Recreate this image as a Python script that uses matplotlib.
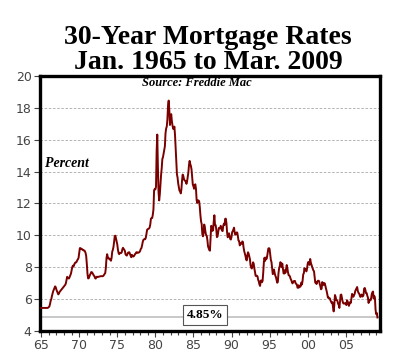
import matplotlib
matplotlib.use("Agg")
import matplotlib.pyplot as plt
import numpy as np

# Monatswerte 30-Year Mortgage Rates, Jan. 1965 bis Mar. 2009 (Freddie Mac)
START_YEAR = 1965
rates = [
    5.45, 5.45, 5.45, 5.45, 5.45, 5.45, 5.45, 5.45, 5.45, 5.45, 5.45, 5.47,   # 1965
    5.5, 5.55, 5.7, 5.9, 6.0, 6.2, 6.35, 6.5, 6.6, 6.7, 6.8, 6.75,             # 1966
    6.6, 6.5, 6.4, 6.3, 6.35, 6.45, 6.5, 6.55, 6.6, 6.65, 6.7, 6.75,           # 1967
    6.8, 6.85, 6.9, 7.0, 7.2, 7.4, 7.35, 7.3, 7.3, 7.4, 7.5, 7.6,              # 1968
    7.8, 8.0, 8.1, 8.05, 8.15, 8.25, 8.3, 8.3, 8.35, 8.45, 8.5, 8.6,           # 1969
    8.9, 9.2, 9.2, 9.15, 9.15, 9.1, 9.1, 9.05, 9.05, 9.0, 8.9, 8.7,            # 1970
    8.2, 7.6, 7.3, 7.31, 7.43, 7.53, 7.6, 7.7, 7.69, 7.63, 7.55, 7.48,         # 1971
    7.44, 7.32, 7.29, 7.37, 7.41, 7.38, 7.4, 7.41, 7.42, 7.43, 7.44, 7.44,     # 1972
    7.44, 7.44, 7.46, 7.52, 7.58, 7.64, 7.97, 8.58, 8.82, 8.65, 8.54, 8.55,    # 1973
    8.54, 8.46, 8.41, 8.58, 8.97, 9.09, 9.28, 9.59, 9.96, 9.98, 9.79, 9.62,    # 1974
    9.43, 9.10, 8.89, 8.82, 8.91, 8.89, 8.89, 8.94, 9.13, 9.22, 9.15, 9.10,    # 1975
    9.02, 8.81, 8.76, 8.73, 8.83, 8.92, 8.93, 8.94, 8.82, 8.72, 8.63, 8.78,    # 1976
    8.72, 8.67, 8.69, 8.75, 8.83, 8.86, 8.94, 8.94, 8.90, 8.92, 8.92, 8.96,    # 1977
    9.02, 9.15, 9.20, 9.36, 9.57, 9.71, 9.74, 9.78, 9.76, 9.86, 10.11, 10.35,  # 1978
    10.39, 10.41, 10.43, 10.50, 10.69, 11.04, 11.09, 11.09, 11.30, 11.64, 12.83, 12.90,  # 1979
    12.88, 13.04, 15.28, 16.32, 14.26, 12.71, 12.19, 12.56, 13.20, 13.79, 14.21, 14.79,  # 1980
    14.90, 15.13, 15.40, 15.58, 16.40, 16.70, 16.83, 17.29, 18.16, 18.45, 17.83, 16.92,  # 1981
    17.40, 17.60, 17.16, 16.89, 16.68, 16.70, 16.82, 16.27, 15.43, 14.61, 13.83, 13.62,  # 1982
    13.25, 13.04, 12.80, 12.78, 12.63, 12.87, 13.42, 13.81, 13.73, 13.54, 13.44, 13.42,  # 1983
    13.37, 13.23, 13.39, 13.65, 13.94, 14.42, 14.67, 14.47, 14.35, 14.13, 13.64, 13.18,  # 1984
    13.08, 12.92, 13.17, 13.20, 12.91, 12.22, 12.03, 12.19, 12.19, 12.14, 11.78, 11.26,  # 1985
    10.88, 10.71, 10.08, 9.94, 10.14, 10.68, 10.51, 10.20, 10.01, 9.97, 9.70, 9.31,      # 1986
    9.20, 9.08, 9.04, 9.83, 10.60, 10.54, 10.28, 10.33, 10.89, 11.26, 10.65, 10.64,      # 1987
    10.38, 9.89, 9.93, 10.20, 10.46, 10.46, 10.43, 10.60, 10.48, 10.30, 10.27, 10.61,    # 1988
    10.73, 10.65, 11.03, 11.05, 10.77, 10.20, 9.88, 9.99, 10.13, 9.95, 9.77, 9.74,       # 1989
    9.90, 10.20, 10.27, 10.37, 10.48, 10.16, 10.04, 10.10, 10.18, 10.18, 9.95, 9.67,     # 1990
    9.64, 9.37, 9.50, 9.49, 9.47, 9.62, 9.58, 9.24, 9.01, 8.86, 8.71, 8.50,              # 1991
    8.43, 8.76, 8.94, 8.85, 8.67, 8.51, 8.13, 7.98, 7.92, 8.09, 8.31, 8.22,              # 1992
    7.92, 7.71, 7.46, 7.46, 7.47, 7.42, 7.21, 7.11, 6.92, 6.83, 7.16, 7.17,              # 1993
    7.06, 7.15, 7.68, 8.32, 8.60, 8.40, 8.61, 8.51, 8.64, 8.93, 9.17, 9.20,              # 1994
    9.15, 8.83, 8.46, 8.32, 7.96, 7.57, 7.61, 7.86, 7.64, 7.48, 7.38, 7.20,              # 1995
    7.03, 7.08, 7.62, 7.93, 8.07, 8.32, 8.25, 8.00, 8.23, 7.92, 7.62, 7.60,              # 1996
    7.82, 7.65, 7.90, 8.14, 7.94, 7.69, 7.50, 7.48, 7.43, 7.29, 7.21, 7.10,              # 1997
    6.99, 7.04, 7.13, 7.14, 7.14, 7.00, 6.95, 6.92, 6.72, 6.71, 6.87, 6.74,              # 1998
    6.79, 6.81, 7.04, 6.92, 7.15, 7.55, 7.63, 7.94, 7.82, 7.85, 7.74, 7.91,              # 1999
    8.21, 8.33, 8.24, 8.15, 8.52, 8.29, 8.15, 8.03, 7.91, 7.80, 7.75, 7.38,              # 2000
    7.03, 7.05, 6.95, 7.08, 7.15, 7.16, 7.13, 6.95, 6.82, 6.62, 6.66, 7.07,              # 2001
    7.00, 6.89, 7.01, 6.99, 6.81, 6.65, 6.49, 6.29, 6.09, 6.11, 6.07, 6.05,              # 2002
    5.92, 5.84, 5.75, 5.81, 5.48, 5.23, 5.63, 6.26, 6.15, 5.95, 5.93, 5.88,              # 2003
    5.71, 5.64, 5.45, 5.83, 6.27, 6.29, 6.06, 5.87, 5.75, 5.72, 5.73, 5.75,              # 2004
    5.71, 5.63, 5.93, 5.86, 5.72, 5.58, 5.70, 5.82, 5.77, 6.07, 6.33, 6.27,              # 2005
    6.15, 6.25, 6.32, 6.51, 6.60, 6.68, 6.76, 6.52, 6.40, 6.36, 6.24, 6.14,              # 2006
    6.22, 6.29, 6.16, 6.18, 6.26, 6.66, 6.70, 6.57, 6.38, 6.38, 6.21, 6.10,              # 2007
    5.76, 5.92, 5.97, 5.92, 6.04, 6.32, 6.43, 6.48, 6.04, 6.20, 6.09, 5.33,              # 2008
    5.06, 5.13, 4.85,                                                                     # 2009
]
LATEST = 4.85

major_years = [1965, 1970, 1975, 1980, 1985, 1990, 1995, 2000, 2005]
major_labels = ["65", "70", "75", "80", "85", "90", "95", "00", "05"]
y_ticks = [4, 6, 8, 10, 12, 14, 16, 18, 20]

t = START_YEAR + np.arange(len(rates)) / 12.0

fig = plt.figure(figsize=(4.0, 3.63), dpi=100)
ax = fig.add_axes([0.1, 0.088, 0.85, 0.703])

# Gitter
for yv in y_ticks[1:-1]:
    ax.axhline(yv, color="#a8a8a8", linestyle=(0, (3, 2)), linewidth=0.6, zorder=1)

# aktueller Wert
ax.axhline(LATEST, color="#c4c4c4", linewidth=1.3, zorder=1)

ax.plot(t, rates, color="#7a0000", linewidth=1.4, zorder=3)

ax.set_xlim(1964.85, 2009.5)
ax.set_ylim(4, 20)
ax.set_yticks(y_ticks)
ax.set_xticks(major_years)
ax.set_xticklabels(major_labels)
ax.set_xticks(np.arange(1966, 2010), minor=True)

for s in ax.spines.values():
    s.set_linewidth(2.4)
    s.set_color("black")

ax.tick_params(axis="both", which="major", direction="out", length=4, width=0.8,
               color="#444444", labelcolor="#444444", labelsize=9, pad=2)
ax.tick_params(axis="x", which="minor", direction="out", length=3, width=0.8,
               color="#444444")

serif = ["Liberation Serif", "DejaVu Serif"]
ax.text(0.46, 0.972, "Source: Freddie Mac", transform=ax.transAxes,
        ha="center", va="center", fontsize=9, fontweight="bold",
        fontstyle="italic", family=serif)
ax.text(0.015, 0.655, "Percent", transform=ax.transAxes,
        ha="left", va="center", fontsize=10, fontweight="bold",
        fontstyle="italic", family=serif)
ax.text(1986.5, 5.0, "4.85%", ha="center", va="center", fontsize=9.5,
        fontweight="bold", family=serif, zorder=4,
        bbox=dict(boxstyle="square,pad=0.3", facecolor="white",
                  edgecolor="#555555", linewidth=0.8))

fig.text(0.52, 0.862, "30-Year Mortgage Rates\nJan. 1965 to Mar. 2009",
         ha="center", va="center", fontsize=20, fontweight="bold",
         family=serif, linespacing=1.0)

fig.savefig("out.png", dpi=100)
